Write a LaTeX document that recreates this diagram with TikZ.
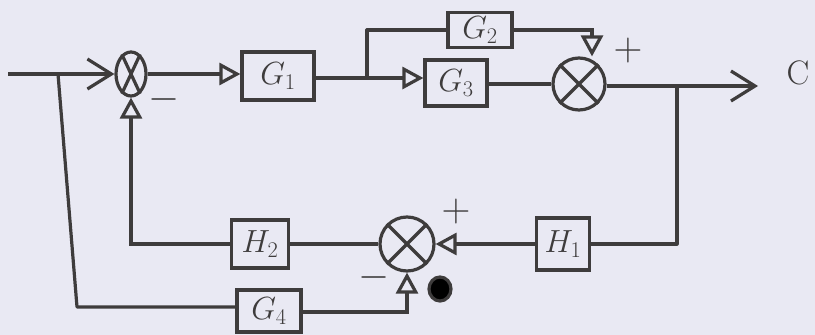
\documentclass[tikz,border=0pt]{standalone}
\usepackage{fix-cm}
\usetikzlibrary{arrows.meta,shapes.geometric,calc}
\definecolor{paper}{RGB}{233,233,243}
\definecolor{ink}{RGB}{62,60,60}
\begin{document}
\begin{tikzpicture}[x=1pt,y=-1pt,
  ink/.style={draw=ink,line width=3.2pt},
  blk/.style={ink,rectangle,inner sep=0pt,font=\fontsize{32}{36}\selectfont,text=ink},
  sumc/.style={ink,circle,inner sep=0pt},
  wire/.style={ink,line join=round},
  tri/.style={ink,-{Triangle[open,length=21pt,width=22pt]}},
  chev/.style={ink,-{Straight Barb[length=24pt,width=30pt,line width=3.2pt]}},
  sgn/.style={text=ink,font=\fontsize{40}{44}\selectfont,inner sep=0pt}]
\useasboundingbox (0,0) rectangle (815,335);
\fill[paper] (0,0) rectangle (815,335);
% nodes
\coordinate (in) at (8,74);
\coordinate (b1) at (58,74);
\node[ink,ellipse,minimum width=30pt,minimum height=44pt,inner sep=0pt] (s1) at (131,74) {};
\node[blk,minimum width=72pt,minimum height=48pt] (g1) at (278,76) {$G_1$};
\coordinate (b2) at (367,78);
\node[blk,minimum width=64pt,minimum height=35pt] (g2) at (480,30) {$G_2$};
\node[blk,minimum width=62pt,minimum height=46pt] (g3) at (456,83) {$G_3$};
\node[sumc,minimum size=52pt] (s2) at (579,84) {};
\coordinate (b3) at (677,86);
\coordinate (out) at (758,86);
\node[text=ink,font=\fontsize{34}{38}\selectfont,inner sep=0pt] (c) at (798,73) {C};
\node[blk,minimum width=53pt,minimum height=52pt] (h1) at (563,244) {$H_1$};
\node[sumc,minimum size=54pt] (s3) at (407,244) {};
\node[blk,minimum width=57pt,minimum height=48pt] (h2) at (260,244) {$H_2$};
\node[blk,minimum width=64pt,minimum height=42pt] (g4) at (269,311) {$G_4$};
\coordinate (c1) at (77,307);
\coordinate (c2) at (592,30);
\coordinate (c3) at (677,244);
\coordinate (c4) at (407,312);
\coordinate (c5) at (131,244);
\coordinate (c6) at (367,30);
% crosses in summers
\draw[wire] (s1.115) -- (s1.-65) (s1.65) -- (s1.-115);
\draw[wire] (s2.135) -- (s2.-45) (s2.45) -- (s2.-135);
\draw[wire] (s3.135) -- (s3.-45) (s3.45) -- (s3.-135);
% forward path
\draw[chev] (in) -- (s1.west);
\draw[tri] (s1.east) -- (g1.west |- s1.east);
\draw[tri] (g1.east |- b2) -- (g3.west |- b2);
\draw[wire] (b2) -- (c6) -- (g2.west);
\draw[tri] (g2.east) -- (c2) -- (s2.north -| c2);
\draw[wire] (g3.east |- s2) -- (s2.west);
\draw[chev] (s2.east |- out) -- (out);
% feedback paths
\draw[wire] (b3) -- (c3) -- (h1.east);
\draw[tri] (h1.west) -- (s3.east);
\draw[wire] (s3.west) -- (h2.east);
\draw[tri] (h2.west) -- (c5) -- (s1.south);
\draw[wire] (b1) -- (c1) -- (g4.west |- c1);
\draw[tri] (g4.east |- c4) -- (c4) -- (s3.south);
% signs
\node[sgn] (m1) at (164,99) {$-$};
\node[sgn] (p1) at (628,50) {$+$};
\node[sgn] (p2) at (456,211) {$+$};
\node[sgn] (m2) at (374,277) {$-$};
% ink blot
\fill[ink] (440,289) ellipse (11pt and 12pt);
\end{tikzpicture}
\end{document}
